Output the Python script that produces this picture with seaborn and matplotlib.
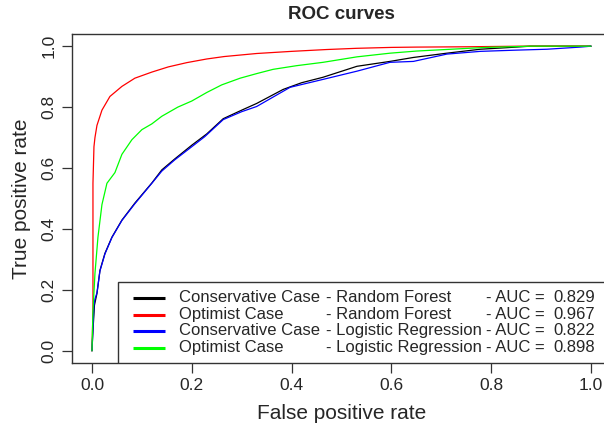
import matplotlib
matplotlib.use('Agg')
import matplotlib.pyplot as plt
import seaborn as sns
import pandas as pd
from matplotlib.patches import Rectangle

# Curvas ROC
rf_cons_fpr = [0, 0.002, 0.005, 0.010, 0.016, 0.026, 0.040, 0.060, 0.086, 0.120, 0.140, 0.166,
               0.200, 0.230, 0.263, 0.300, 0.330, 0.383, 0.420, 0.463, 0.531, 0.597, 0.644,
               0.711, 0.778, 0.830, 0.878, 1.0]
rf_cons_tpr = [0, 0.066, 0.15, 0.188, 0.264, 0.32, 0.373, 0.429, 0.485, 0.551, 0.594, 0.63,
               0.675, 0.712, 0.762, 0.79, 0.812, 0.858, 0.88, 0.898, 0.934, 0.95, 0.963,
               0.977, 0.99, 0.995, 1.0, 1.0]

rf_opt_fpr = [0, 0.002, 0.002, 0.004, 0.006, 0.010, 0.020, 0.036, 0.060, 0.086, 0.120, 0.153,
              0.190, 0.230, 0.265, 0.330, 0.400, 0.470, 0.530, 0.600, 0.650, 0.750, 0.860, 1.0]
rf_opt_tpr = [0, 0.13, 0.55, 0.67, 0.70, 0.74, 0.79, 0.835, 0.868, 0.895, 0.915, 0.932,
              0.946, 0.958, 0.966, 0.976, 0.983, 0.989, 0.993, 0.996, 0.997, 0.998, 1.0, 1.0]

lr_cons_fpr = [0, 0.004, 0.006, 0.010, 0.016, 0.026, 0.040, 0.060, 0.086, 0.120, 0.140, 0.166,
               0.200, 0.226, 0.263, 0.300, 0.330, 0.397, 0.463, 0.531, 0.597, 0.644, 0.711,
               0.778, 0.850, 0.912, 0.978, 1.0]
lr_cons_tpr = [0, 0.15, 0.17, 0.19, 0.262, 0.318, 0.372, 0.428, 0.483, 0.55, 0.59, 0.627,
               0.67, 0.703, 0.759, 0.785, 0.802, 0.865, 0.891, 0.918, 0.947, 0.95, 0.974,
               0.983, 0.987, 0.99, 0.997, 1.0]

lr_opt_fpr = [0, 0.002, 0.006, 0.012, 0.020, 0.030, 0.046, 0.060, 0.080, 0.100, 0.120, 0.140,
              0.172, 0.200, 0.230, 0.260, 0.297, 0.330, 0.363, 0.410, 0.463, 0.531, 0.597,
              0.650, 0.720, 0.790, 0.880, 1.0]
lr_opt_tpr = [0, 0.13, 0.254, 0.373, 0.48, 0.55, 0.585, 0.645, 0.693, 0.726, 0.745, 0.77,
              0.80, 0.82, 0.848, 0.873, 0.895, 0.91, 0.924, 0.936, 0.947, 0.965, 0.977,
              0.984, 0.99, 0.996, 1.0, 1.0]

cases = ['Conservative Case', 'Optimist Case', 'Conservative Case', 'Optimist Case']
models = ['- Random Forest', '- Random Forest', '- Logistic Regression', '- Logistic Regression']
aucs = [0.829, 0.967, 0.822, 0.898]
colors = ['#000000', '#FF0000', '#0000FF', '#00FF00']
x_ticks = [0.0, 0.2, 0.4, 0.6, 0.8, 1.0]
y_ticks = [0.0, 0.2, 0.4, 0.6, 0.8, 1.0]

curves = [(rf_cons_fpr, rf_cons_tpr), (rf_opt_fpr, rf_opt_tpr),
          (lr_cons_fpr, lr_cons_tpr), (lr_opt_fpr, lr_opt_tpr)]
rows = []
for i, (fx, fy) in enumerate(curves):
    for k, (a, b) in enumerate(zip(fx, fy)):
        rows.append({'curve': i, 'order': k, 'fpr': a, 'tpr': b})
df = pd.DataFrame(rows)

sns.set_theme(style='white')
plt.rcParams['font.family'] = ['Liberation Sans', 'DejaVu Sans']

fig = plt.figure(figsize=(6.04, 4.30), dpi=100)
ax = fig.add_axes([72 / 604, 67 / 430, 539 / 604, 329 / 430])

sns.lineplot(data=df, x='fpr', y='tpr', hue='curve', palette=colors, sort=False,
             estimator=None, units='curve', legend=False, linewidth=0.9, ax=ax)

ax.set_xlim(-0.04, 1.04)
ax.set_ylim(-0.04, 1.04)
ax.set_xticks(x_ticks)
ax.set_yticks(y_ticks)
ax.set_xticklabels([f'{t:.1f}' for t in x_ticks], fontsize=12.5)
ax.set_yticklabels([f'{t:.1f}' for t in y_ticks], fontsize=12.5, rotation=90, va='center')
ax.tick_params(axis='both', direction='out', length=7, width=0.9, color='#333333',
               bottom=True, left=True, pad=4)
for s in ax.spines.values():
    s.set_color('#333333')
    s.set_linewidth(1.0)

ax.set_xlabel('False positive rate', fontsize=15, labelpad=8)
ax.set_ylabel('True positive rate', fontsize=15, labelpad=8)
ax.set_title('ROC curves', fontsize=13.5, fontweight='bold', pad=11)

# legenda manual (estilo R, colunas alinhadas)
def fx(px):
    return (px - 72) / 539

ax.add_patch(Rectangle((fx(118), 0), 1.2, 0.246, transform=ax.transAxes,
                       facecolor='white', edgecolor='#333333', linewidth=1.0, zorder=5))
row_y = [0.1976, 0.1459, 0.0973, 0.0456]
for i in range(4):
    ax.plot([fx(133), fx(165)], [row_y[i]] * 2, color=colors[i], linewidth=2.2,
            transform=ax.transAxes, zorder=6, solid_capstyle='butt')
    kw = dict(transform=ax.transAxes, va='center', fontsize=12, zorder=6)
    ax.text(fx(179), row_y[i], cases[i], ha='left', **kw)
    ax.text(fx(326), row_y[i], models[i], ha='left', **kw)
    ax.text(fx(545), row_y[i], '- AUC =', ha='right', **kw)
    ax.text(fx(553), row_y[i], f'{aucs[i]:.3f}', ha='left', **kw)

fig.savefig('out.png', dpi=100)
